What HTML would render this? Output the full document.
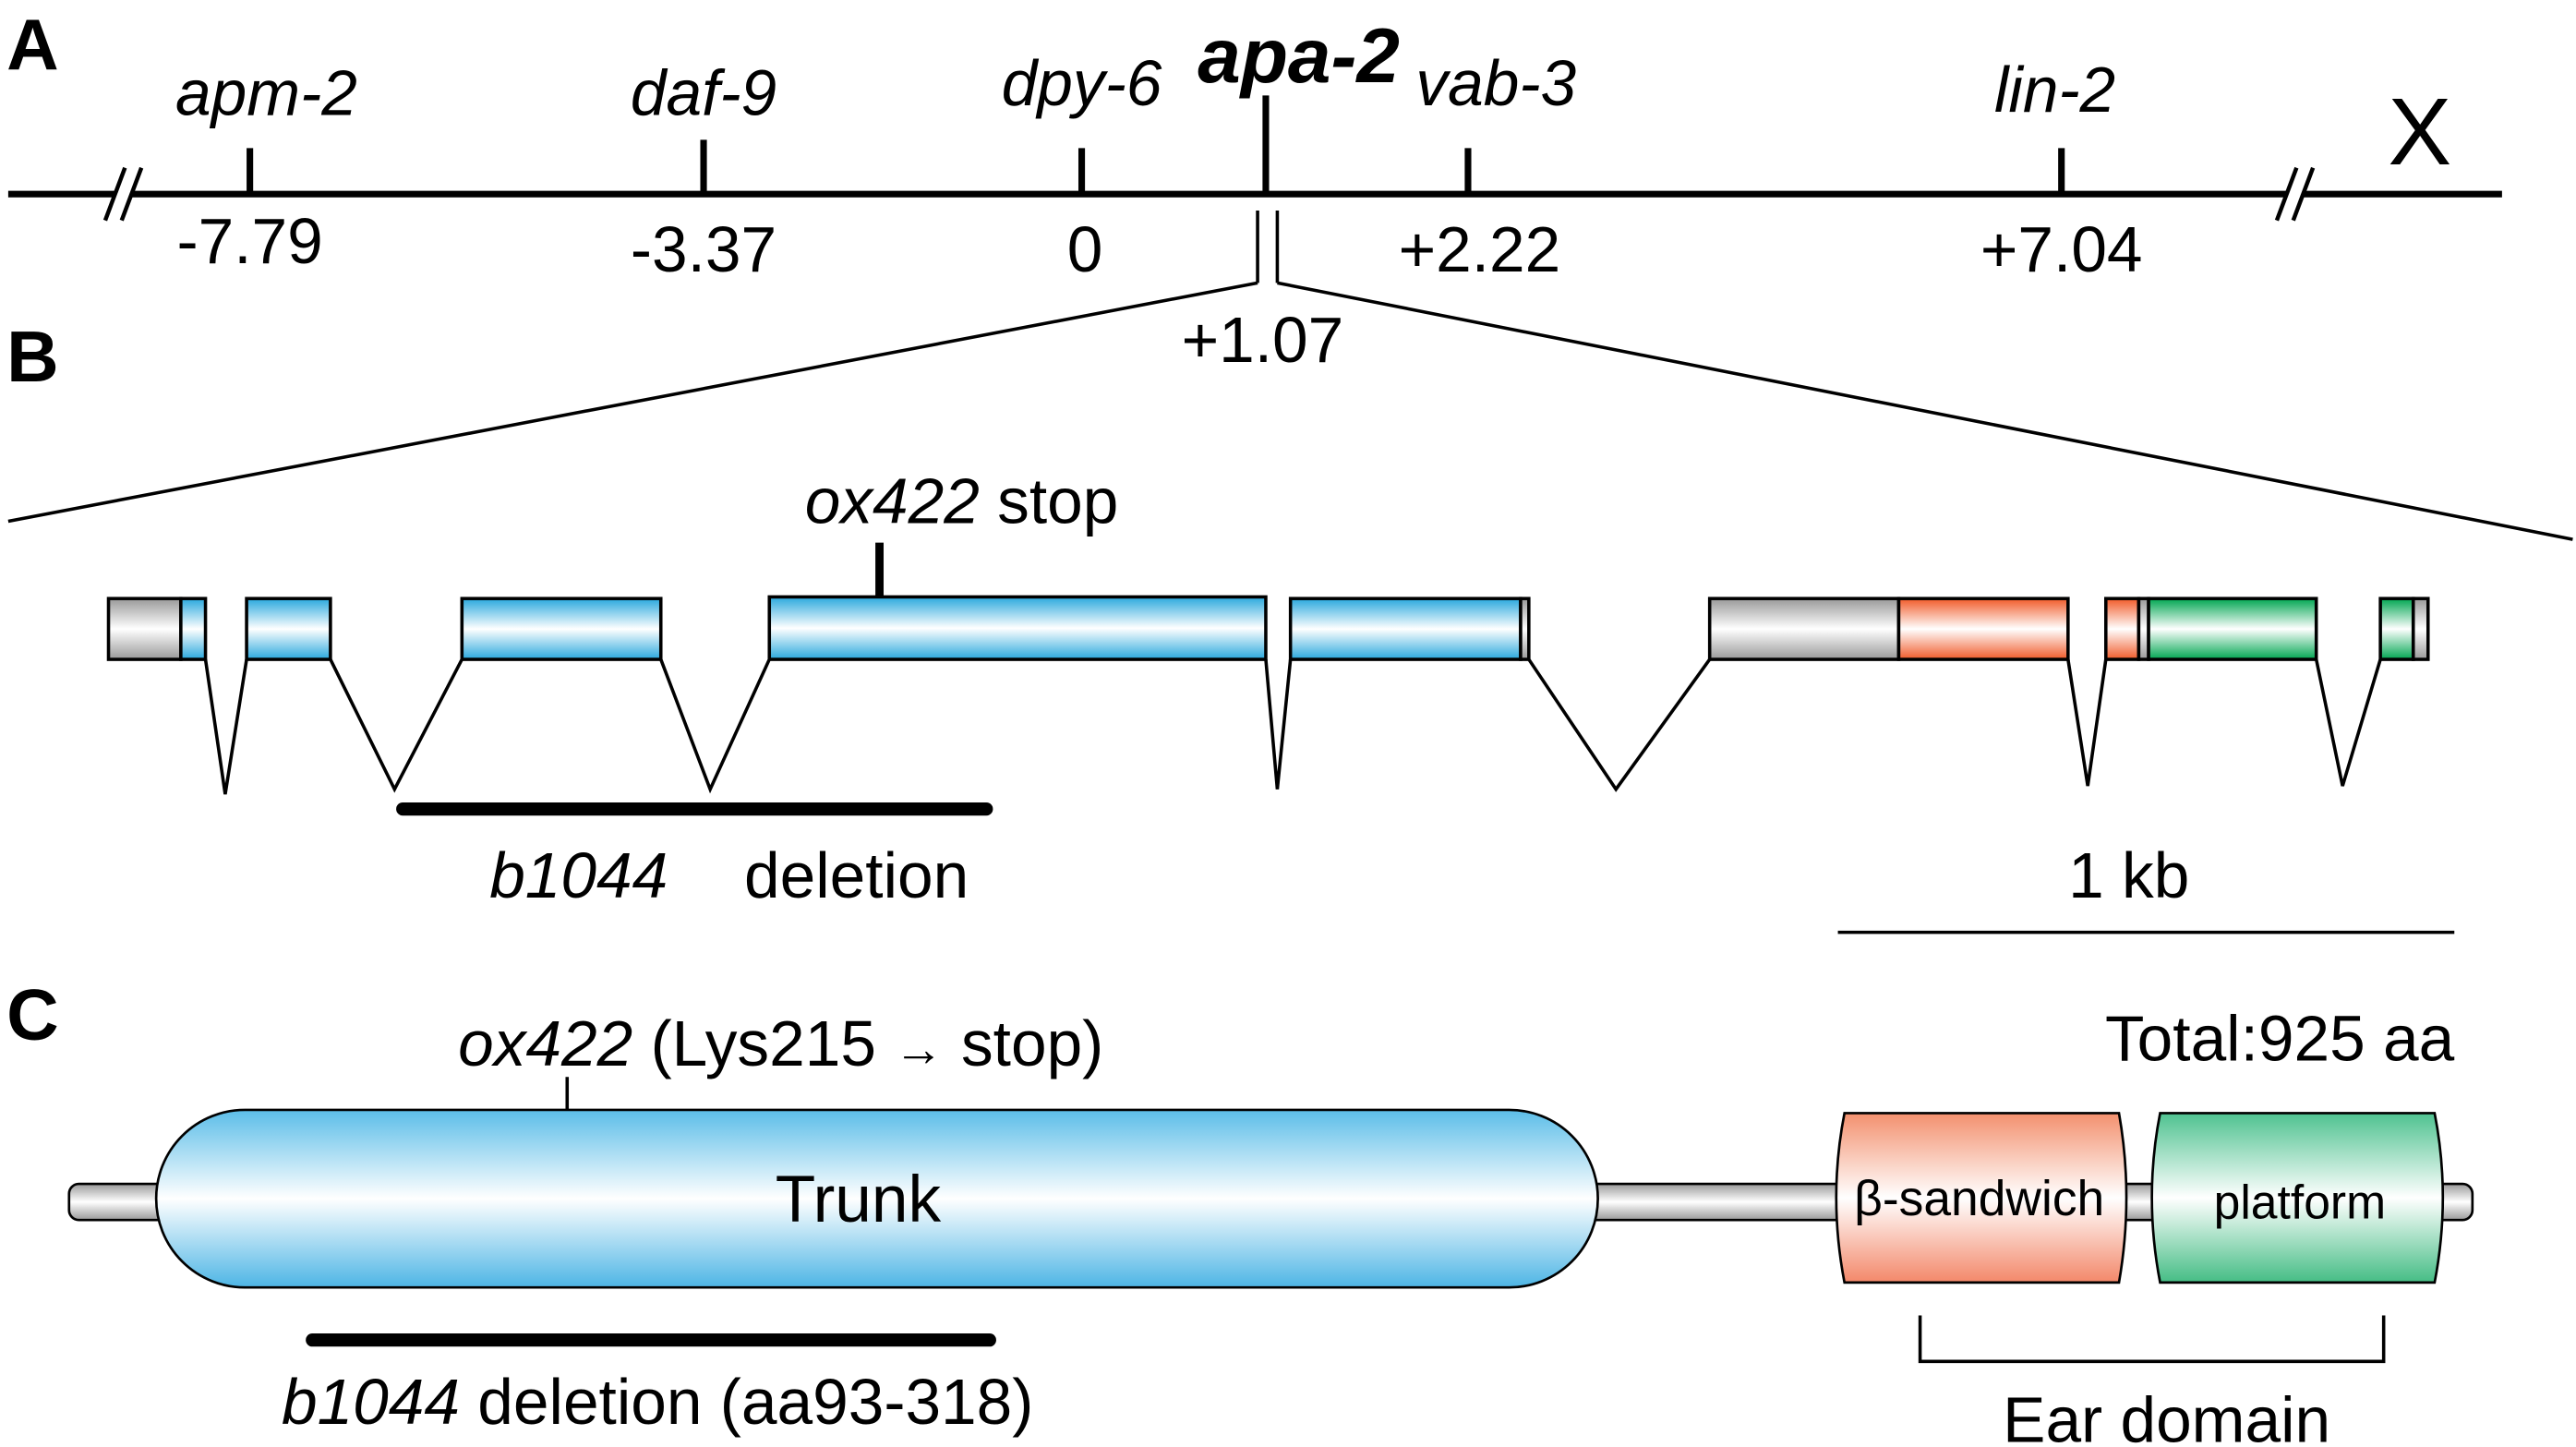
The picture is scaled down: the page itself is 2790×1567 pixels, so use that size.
<!DOCTYPE html>
<html><head><meta charset="utf-8"><style>html,body{margin:0;padding:0;background:#fff}svg{display:block}</style></head><body>
<svg width="2790" height="1567" viewBox="0 0 1567 880" xmlns="http://www.w3.org/2000/svg" font-family="Liberation Sans, Arial, sans-serif">
<defs>
<linearGradient id="bl" x1="0" y1="0" x2="0" y2="1"><stop offset="0" stop-color="#29a8dd"/><stop offset="0.5" stop-color="#fff"/><stop offset="1" stop-color="#29a8dd"/></linearGradient>
<linearGradient id="gr" x1="0" y1="0" x2="0" y2="1"><stop offset="0" stop-color="#999"/><stop offset="0.5" stop-color="#fff"/><stop offset="1" stop-color="#999"/></linearGradient>
<linearGradient id="or" x1="0" y1="0" x2="0" y2="1"><stop offset="0" stop-color="#f15a29"/><stop offset="0.5" stop-color="#fff"/><stop offset="1" stop-color="#f15a29"/></linearGradient>
<linearGradient id="gn" x1="0" y1="0" x2="0" y2="1"><stop offset="0" stop-color="#00a651"/><stop offset="0.5" stop-color="#fff"/><stop offset="1" stop-color="#00a651"/></linearGradient>
<linearGradient id="bl2" x1="0" y1="0" x2="0" y2="1"><stop offset="0" stop-color="#5bbde8"/><stop offset="0.5" stop-color="#fff"/><stop offset="1" stop-color="#4db5e5"/></linearGradient>
<linearGradient id="or2" x1="0" y1="0" x2="0" y2="1"><stop offset="0" stop-color="#f3906e"/><stop offset="0.5" stop-color="#fff"/><stop offset="1" stop-color="#f3886a"/></linearGradient>
<linearGradient id="gn2" x1="0" y1="0" x2="0" y2="1"><stop offset="0" stop-color="#4fc290"/><stop offset="0.5" stop-color="#fff"/><stop offset="1" stop-color="#45bd85"/></linearGradient>
</defs>
<g font-weight="bold" font-size="44"><text x="4" y="42">A</text><text x="4" y="232">B</text><text x="4" y="632">C</text></g>
<line x1="5" y1="118" x2="1522" y2="118" stroke="#000" stroke-width="4"/>
<g stroke="#fff" stroke-width="8"><line x1="70" y1="132" x2="80" y2="104"/><line x1="1391" y1="132" x2="1401" y2="104"/></g>
<g stroke="#000" stroke-width="2.5"><line x1="64" y1="134" x2="76" y2="102"/><line x1="74" y1="134" x2="86" y2="102"/><line x1="1385" y1="134" x2="1397" y2="102"/><line x1="1395" y1="134" x2="1407" y2="102"/></g>
<g stroke="#000" stroke-width="4"><line x1="152" y1="90" x2="152" y2="118"/><line x1="428" y1="85" x2="428" y2="118"/><line x1="658" y1="90" x2="658" y2="118"/><line x1="770" y1="58" x2="770" y2="118"/><line x1="893" y1="90" x2="893" y2="118"/><line x1="1254" y1="90" x2="1254" y2="118"/></g>
<g font-style="italic" font-size="39" text-anchor="middle"><text x="162" y="70">apm-2</text><text x="428" y="70">daf-9</text><text x="658" y="64">dpy-6</text><text x="910" y="64">vab-3</text><text x="1250" y="68">lin-2</text></g>
<text x="790" y="50" font-style="italic" font-weight="bold" font-size="47" text-anchor="middle">apa-2</text>
<text x="1472" y="100" font-size="58" text-anchor="middle">X</text>
<g font-size="39" text-anchor="middle"><text x="152" y="160">-7.79</text><text x="428" y="165">-3.37</text><text x="660" y="165">0</text><text x="900" y="165">+2.22</text><text x="1254" y="165">+7.04</text><text x="768" y="220">+1.07</text></g>
<g stroke="#000" stroke-width="2"><line x1="765" y1="128" x2="765" y2="172"/><line x1="777" y1="128" x2="777" y2="172"/><line x1="765" y1="172" x2="5" y2="317"/><line x1="777" y1="172" x2="1565" y2="328"/></g>
<text x="585" y="318" font-size="39" text-anchor="middle"><tspan font-style="italic">ox422</tspan> stop</text>
<line x1="535" y1="330" x2="535" y2="366" stroke="#000" stroke-width="5"/>
<g stroke="#000" stroke-width="2" fill="none"><polyline points="125,401 137,483 150,401"/><polyline points="201,401 240,480 281,401"/><polyline points="402,401 432,480 468,401"/><polyline points="770,401 777,480 785,401"/><polyline points="930,401 983,480 1040,401"/><polyline points="1258,401 1270,478 1281,401"/><polyline points="1409,401 1425,478 1448,401"/></g>
<g stroke="#000" stroke-width="2">
<rect x="66" y="364" width="44" height="37" fill="url(#gr)"/><rect x="110" y="364" width="15" height="37" fill="url(#bl)"/>
<rect x="150" y="364" width="51" height="37" fill="url(#bl)"/>
<rect x="281" y="364" width="121" height="37" fill="url(#bl)"/>
<rect x="468" y="363" width="302" height="38" fill="url(#bl)"/>
<rect x="785" y="364" width="140" height="37" fill="url(#bl)"/><rect x="925" y="364" width="5" height="37" fill="url(#gr)"/>
<rect x="1040" y="364" width="115" height="37" fill="url(#gr)"/><rect x="1155" y="364" width="103" height="37" fill="url(#or)"/>
<rect x="1281" y="364" width="20" height="37" fill="url(#or)"/><rect x="1301" y="364" width="6" height="37" fill="url(#gr)"/><rect x="1307" y="364" width="102" height="37" fill="url(#gn)"/>
<rect x="1448" y="364" width="20" height="37" fill="url(#gn)"/><rect x="1468" y="364" width="9" height="37" fill="url(#gr)"/>
</g>
<line x1="245" y1="492" x2="600" y2="492" stroke="#000" stroke-width="8" stroke-linecap="round"/>
<g font-size="39" text-anchor="middle"><text x="352" y="546" font-style="italic">b1044</text><text x="521" y="546">deletion</text><text x="1295" y="546">1 kb</text></g>
<line x1="1118" y1="567" x2="1493" y2="567" stroke="#000" stroke-width="2"/>
<text x="1493" y="645" font-size="39" text-anchor="end">Total:925 aa</text>
<text x="475" y="648" font-size="39" text-anchor="middle"><tspan font-style="italic">ox422</tspan> (Lys215 <tspan font-size="30">→</tspan> stop)</text>
<rect x="42" y="720" width="1462" height="22" rx="6" fill="url(#gr)" stroke="#000" stroke-width="1.5"/>
<line x1="345" y1="655" x2="345" y2="680" stroke="#000" stroke-width="2"/>
<rect x="95" y="675" width="877" height="108" rx="54" fill="url(#bl2)" stroke="#000" stroke-width="1.5"/>
<text x="522" y="743" font-size="40" text-anchor="middle">Trunk</text>
<path d="M1122,677 H1289 Q1298,728 1289,780 H1122 Q1112,728 1122,677 Z" fill="url(#or2)" stroke="#000" stroke-width="1.5"/>
<path d="M1314,677 H1481 Q1491,728 1481,780 H1314 Q1304,728 1314,677 Z" fill="url(#gn2)" stroke="#000" stroke-width="1.5"/>
<text x="1204" y="739" font-size="30" text-anchor="middle">β-sandwich</text>
<text x="1399" y="741" font-size="29" text-anchor="middle">platform</text>
<line x1="190" y1="815" x2="602" y2="815" stroke="#000" stroke-width="8" stroke-linecap="round"/>
<text x="400" y="866" font-size="39" text-anchor="middle"><tspan font-style="italic">b1044</tspan>  deletion (aa93-318)</text>
<polyline points="1168,800 1168,828 1450,828 1450,800" fill="none" stroke="#000" stroke-width="2"/>
<text x="1318" y="877" font-size="39" text-anchor="middle">Ear domain</text>
</svg>
</body></html>
